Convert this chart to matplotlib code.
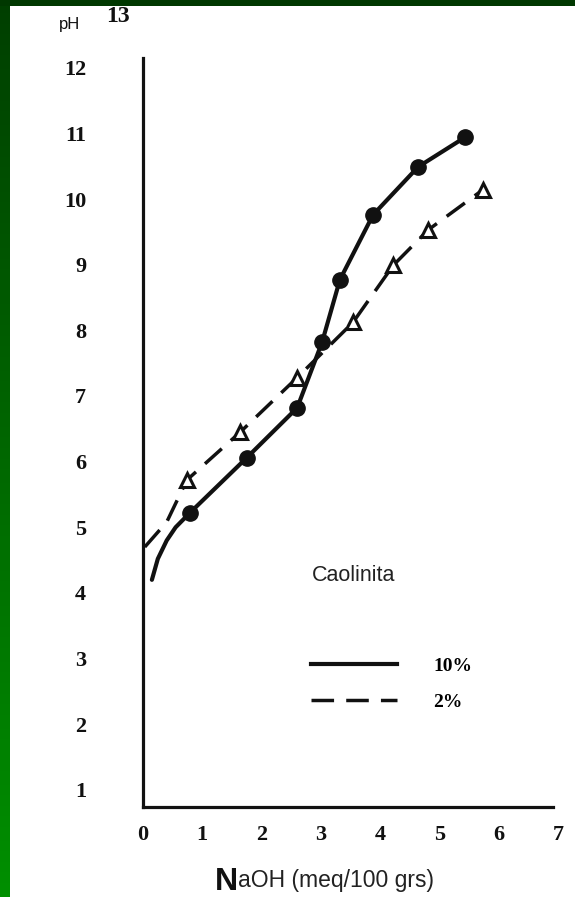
import matplotlib
matplotlib.use("Agg")
import matplotlib.pyplot as plt
import numpy as np
from matplotlib.lines import Line2D
from matplotlib.colors import LinearSegmentedColormap

# ---- data ----
naoh_10 = [0.15, 0.25, 0.40, 0.55, 0.79, 1.75, 2.60, 3.02, 3.32, 3.88, 4.64, 5.43]
ph_10 = [4.20, 4.52, 4.80, 5.00, 5.22, 6.06, 6.82, 7.82, 8.77, 9.76, 10.49, 10.94]
marks_10 = [4, 5, 6, 7, 8, 9, 10, 11]

naoh_2 = [0.03, 0.40, 0.74, 1.64, 2.60, 3.54, 4.22, 4.81, 5.73]
ph_2 = [4.70, 5.08, 5.72, 6.45, 7.28, 8.12, 8.99, 9.53, 10.14]
marks_2 = [2, 3, 4, 5, 6, 7, 8]

x_ticks = [0, 1, 2, 3, 4, 5, 6, 7]
y_ticks = [1, 2, 3, 4, 5, 6, 7, 8, 9, 10, 11, 12]
legend_labels = ["10%", "2%"]

W, H = 575, 897
fig = plt.figure(figsize=(W / 100, H / 100), dpi=100)
fig.patch.set_facecolor("white")

# green frame (left gradient strip, top strip)
gax = fig.add_axes([0, 0, 10 / W, 1])
grad = np.linspace(0, 1, 256).reshape(-1, 1)
cmap = LinearSegmentedColormap.from_list("g", ["#003f00", "#008f00"])
gax.imshow(grad, aspect="auto", cmap=cmap, extent=[0, 1, 0, 1], origin="upper")
gax.axis("off")
tax = fig.add_axes([0, 1 - 6 / H, 1, 6 / H])
tax.set_facecolor("#003800")
tax.set_xticks([]); tax.set_yticks([])
for s in tax.spines.values():
    s.set_visible(False)

ink = "#111111"
ax = fig.add_axes([143 / W, 90 / H, 427 / W, (897 - 8.6 - 90) / H])
ax.set_facecolor("none")
ax.set_xlim(0, 7.2)
ax.set_ylim(0.74, 12.9)

ax.plot(naoh_10, ph_10, color=ink, lw=3.0, solid_capstyle="round",
        solid_joinstyle="round",
        marker="o", markevery=marks_10, ms=11, mfc=ink, mec=ink, zorder=3)
ax.plot(naoh_2, ph_2, color=ink, lw=2.5, linestyle=(0, (6.5, 3.5)),
        marker="^", markevery=marks_2, ms=9.5, mfc="white", mec=ink, mew=2.2,
        zorder=4)

for side in ["top", "right"]:
    ax.spines[side].set_visible(False)
for side in ["left", "bottom"]:
    ax.spines[side].set_linewidth(2.3)
    ax.spines[side].set_color(ink)
ax.spines["left"].set_bounds(0.74, 12.15)
ax.spines["bottom"].set_bounds(0, 6.92)

tick_font = dict(family=["Liberation Serif", "DejaVu Serif"], weight="bold", size=16)
ax.set_xticks(x_ticks)
ax.set_xticklabels([str(v) for v in x_ticks], fontdict=tick_font, color=ink)
ax.set_yticks(y_ticks)
ax.set_yticklabels([str(v) for v in y_ticks], fontdict=tick_font, color=ink)
ax.tick_params(axis="x", length=0, pad=13)
ax.tick_params(axis="y", length=0, pad=41)

# legend
handles = [Line2D([], [], color=ink, lw=3.0),
           Line2D([], [], color=ink, lw=2.5, linestyle=(0, (6.5, 3.5)))]
leg = ax.legend(handles, legend_labels, loc="upper left",
                bbox_to_anchor=(311 / W, 1 - 657 / H), bbox_transform=fig.transFigure,
                frameon=False, borderpad=0, borderaxespad=0,
                handlelength=4.4, handletextpad=1.9, labelspacing=0.95,
                prop=dict(family=["Liberation Serif", "DejaVu Serif"], weight="bold", size=14))

sans = ["Liberation Sans", "DejaVu Sans"]
fig.text(312 / W, 1 - 575 / H, "Caolinita", family=sans, size=15.5,
         color="#222222", ha="left", va="center")

# axis label: big bold N followed by regular text
fig.text(238 / W, 1 - 890 / H, "N", family=sans, size=23, weight="bold",
         color=ink, ha="right", va="baseline")
fig.text(238 / W, 1 - 887 / H, "aOH (meq/100 grs)", family=sans, size=16.5,
         color="#222222", ha="left", va="baseline")

# y label and top value
fig.text(70 / W, 1 - 25 / H, "pH", family=sans, size=12, color=ink,
         ha="center", va="center")
fig.text(118 / W, 1 - 16 / H, "13", family=["Liberation Serif", "DejaVu Serif"],
         weight="bold", size=17, color=ink, ha="center", va="center")

fig.savefig("out.png", dpi=100, facecolor="white")
